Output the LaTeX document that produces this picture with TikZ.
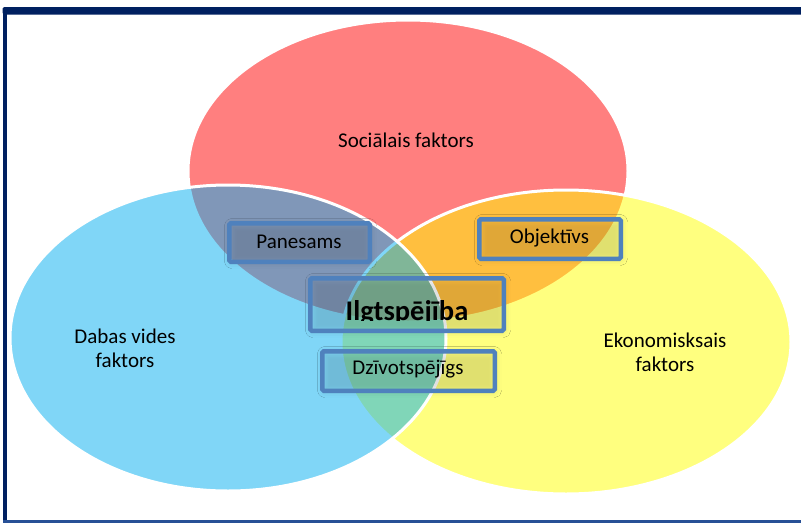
\documentclass[tikz,border=0pt]{standalone}
\usepackage{fontspec}
\setmainfont{Carlito}
\usetikzlibrary{shadows.blur}
\definecolor{navyframe}{RGB}{0,32,96}
\definecolor{navylow}{RGB}{40,80,150}
\definecolor{redbase}{RGB}{255,0,0}
\definecolor{yellowbase}{RGB}{255,255,0}
\definecolor{bluebase}{RGB}{3,175,241}
\definecolor{boxblue}{RGB}{79,129,189}
\tikzset{
  circ/.style={draw=white, line width=3pt, fill opacity=0.5},
  lblbox/.style={draw=boxblue, line width=4.5pt, rounded corners=1.5pt, inner sep=0pt,
    blur shadow={shadow xshift=1pt, shadow yshift=-1pt, shadow blur radius=6pt, shadow opacity=12}},
  lbltext/.style={font=\fontsize{21}{24}\selectfont, text=black, align=center, inner sep=0pt},
  bigtext/.style={font=\fontsize{28.5}{32}\selectfont\bfseries, text=black, inner sep=0pt}
}
\begin{document}
\begin{tikzpicture}[x=1pt,y=-1pt]
\useasboundingbox (0,0) rectangle (801,523);
\fill[white] (0,0) rectangle (801,523);
% frame
\fill[navyframe, rounded corners=1.5pt] (2.7,7) rectangle (810,14.5);
\fill[navyframe] (2.7,10) rectangle (7.3,523);
\fill[navylow] (2.7,520) rectangle (801,523);
% ellipses: red, yellow, blue
\path[circ, fill=redbase] (408,171) ellipse [x radius=220pt, y radius=151pt];
\path[circ, fill=yellowbase] (566,342) ellipse [x radius=225pt, y radius=152pt];
\path[circ, fill=bluebase] (228,338) ellipse [x radius=218pt, y radius=153pt];
% circle labels
\node[lbltext] (soc) at (406,140) {Sociālais faktors};
\node[lbltext] (dab) at (125,348) {Dabas vides\\faktors};
\node[lbltext] (eko) at (665,352) {Ekonomisksais\\faktors};
% boxes
\node[lblbox, minimum width=140.5pt, minimum height=38.5pt] (pan) at (299.5,242.5) {};
\node[lblbox, minimum width=141.5pt, minimum height=39.5pt] (obj) at (550,239) {};
\node[lblbox, minimum width=193.5pt, minimum height=52.5pt] (ilg) at (407,304.5) {};
\node[lblbox, minimum width=172.5pt, minimum height=39.5pt] (dzi) at (408.5,371) {};
\node[lbltext] (pant) at (299,242) {Panesams};
\node[lbltext] (objt) at (549.5,238.5) {Objektīvs};
\node[lbltext] (dzit) at (408,369) {Dzīvotspējīgs};
\begin{scope}
  \clip (300,280) rectangle (515,320.5);
  \node[bigtext, anchor=base] (ilgt) at (407,320) {Ilgtspējība};
\end{scope}
\end{tikzpicture}
\end{document}
